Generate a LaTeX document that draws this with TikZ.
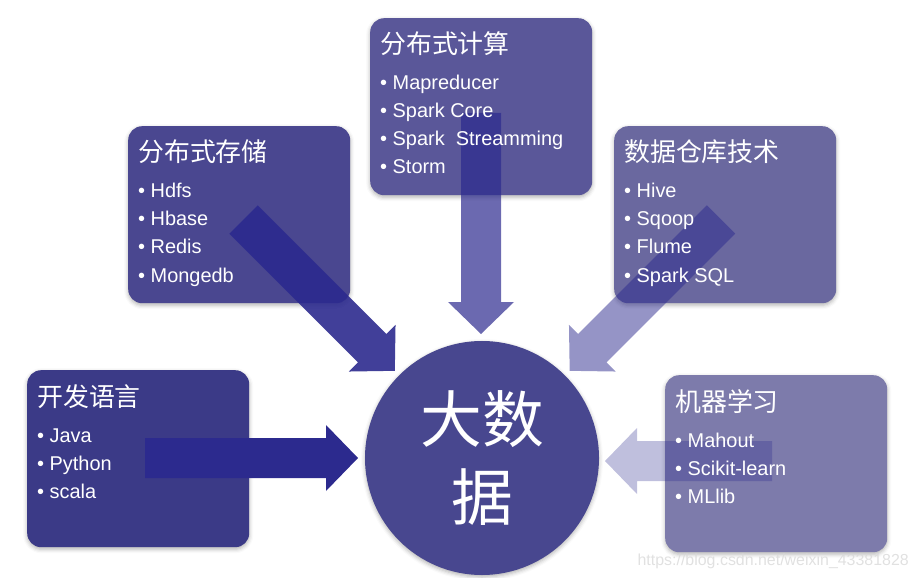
\documentclass[tikz,border=0pt]{standalone}
\usepackage{fontspec}
\setmainfont{Liberation Sans}
\newfontfamily\cjk{Noto Sans CJK SC}
\usetikzlibrary{shadows.blur}
\definecolor{langc}{HTML}{3B3A87}
\definecolor{storec}{HTML}{4A4790}
\definecolor{compc}{HTML}{5A5799}
\definecolor{housec}{HTML}{6A689F}
\definecolor{mlc}{HTML}{7D7BAB}
\definecolor{circc}{HTML}{48478F}
\definecolor{arrc}{HTML}{2C2A8E}
\tikzset{
  box/.style={rounded corners=14bp, minimum width=222bp, minimum height=177bp,
    anchor=north west, inner sep=0pt,
    blur shadow={shadow xshift=0bp, shadow yshift=-2bp, shadow blur radius=4bp, shadow opacity=30}},
  title/.style={anchor=base west, inner sep=0pt, text=white, font=\cjk\fontsize{26}{30}\selectfont},
  item/.style={anchor=base west, inner sep=0pt, text=white, font=\fontsize{20}{24}\selectfont},
}

\begin{document}
\begin{tikzpicture}[x=1bp,y=-1bp]
  \useasboundingbox (0,0) rectangle (919,578);

  %the five boxes
  \node[box, fill=langc]  (lang)  at (27,370) {};
  \node[box, fill=storec] (store) at (128,126) {};
  \node[box, fill=compc]  (comp)  at (370,18) {};
  \node[box, fill=housec] (house) at (614,126) {};
  \node[box, fill=mlc]    (ml)    at (665,375) {};

  %big circle in the middle
  \node[circle, fill=circc, minimum size=234bp, inner sep=0pt, align=center,
    blur shadow={shadow xshift=0bp, shadow yshift=-2bp, shadow blur radius=4bp, shadow opacity=30},
    text=white, font=\cjk\fontsize{62}{78}\selectfont] (bigdata) at (482,458) {大数\\据};

  %tails of the block arrows
  \coordinate (langtail)  at (145,458);
  \coordinate (storetail) at (243.5,219.5);
  \coordinate (comptail)  at (481,113);
  \coordinate (housetail) at (721,219.5);
  \coordinate (mltail)    at (772,461);

  %block arrows, pointing at the circle
  \foreach \name/\ang/\len/\op in {lang/0/213/1, store/-45/214/0.9, comp/-90/221/0.7,
                                   house/-135/214/0.5, ml/180/167/0.3} {
    \begin{scope}[shift={(\name tail)}, rotate=\ang]
      \fill[arrc, opacity=\op] (0,-20) -- (\len-32,-20) -- (\len-32,-33) -- (\len,0)
        -- (\len-32,33) -- (\len-32,20) -- (0,20) -- cycle;
    \end{scope}
  }

  %titles and items
  \node[title] (langtitle)  at ([shift={(10,36)}]lang.north west)  {开发语言};
  \node[title] (storetitle) at ([shift={(10,36)}]store.north west) {分布式存储};
  \node[title] (comptitle)  at ([shift={(10,36)}]comp.north west)  {分布式计算};
  \node[title] (housetitle) at ([shift={(10,36)}]house.north west) {数据仓库技术};
  \node[title] (mltitle)    at ([shift={(10,36)}]ml.north west)    {机器学习};

  \foreach \t [count=\i] in {Java,Python,scala}
    \node[item] (lang\i) at ([shift={(10,{44+28*\i})}]lang.north west) {\textbullet\ \t};
  \foreach \t [count=\i] in {Hdfs,Hbase,Redis,Mongedb}
    \node[item] (store\i) at ([shift={(10,{44+28*\i})}]store.north west) {\textbullet\ \t};
  \foreach \t [count=\i] in {Mapreducer,Spark Core,Spark\ \ Streamming,Storm}
    \node[item] (comp\i) at ([shift={(10,{44+28*\i})}]comp.north west) {\textbullet\ \t};
  \foreach \t [count=\i] in {Hive,Sqoop,Flume,Spark SQL}
    \node[item] (house\i) at ([shift={(10,{44+28*\i})}]house.north west) {\textbullet\ \t};
  \foreach \t [count=\i] in {Mahout,Scikit-learn,MLlib}
    \node[item] (ml\i) at ([shift={(10,{44+28*\i})}]ml.north west) {\textbullet\ \t};

  %watermark
  \node[anchor=base east, inner sep=0pt, text=gray!30, opacity=0.8,
    font=\fontsize{16}{19}\selectfont] (mark) at (909,565) {https://blog.csdn.net/weixin\_43381828};
\end{tikzpicture}
\end{document}
